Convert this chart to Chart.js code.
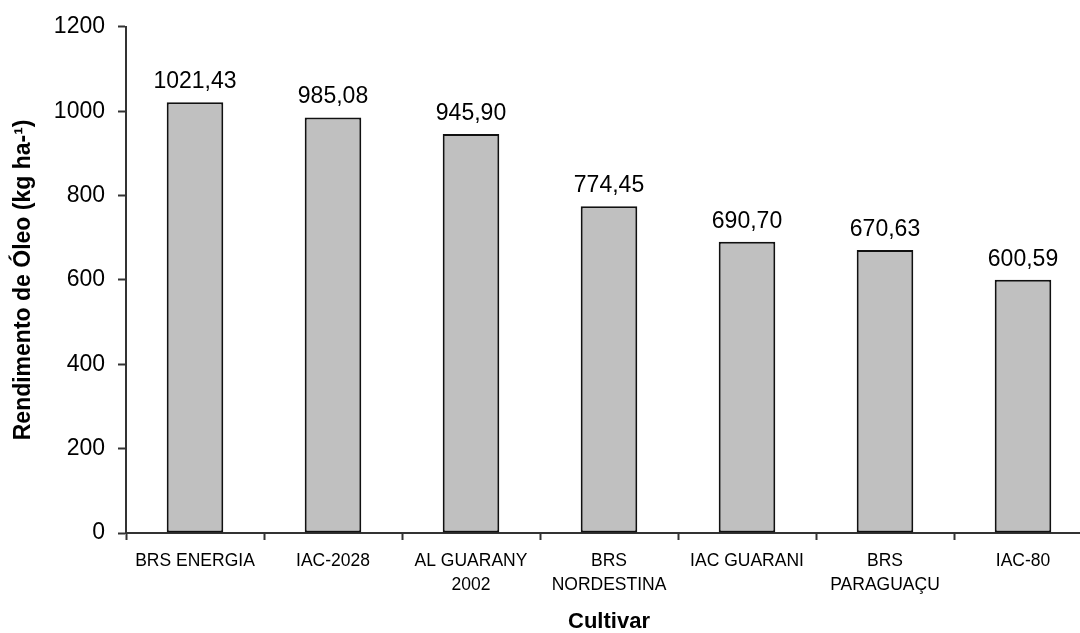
<!DOCTYPE html>
<html>
<head>
<meta charset="utf-8">
<script src="https://cdn.jsdelivr.net/npm/chart.js@4.4.0/dist/chart.umd.min.js"></script>
<style>
  html, body { margin: 0; padding: 0; background: #fff; overflow: hidden; }
  #wrap { width: 1100px; height: 633px; }
</style>
</head>
<body>
<div id="wrap"><canvas id="oleo" width="1100" height="633"></canvas></div>
<script>
// cultivares (eixo x)
var cultivares = [
	'BRS ENERGIA',
	'IAC-2028',
	['AL GUARANY', '2002'],
	['BRS', 'NORDESTINA'],
	'IAC GUARANI',
	['BRS', 'PARAGUAÇU'],
	'IAC-80'
];
// rendimento de oleo (kg/ha)
var rendimento = [1021.43, 985.08, 945.90, 774.45, 690.70, 670.63, 600.59];
var yTicks = [0, 200, 400, 600, 800, 1000, 1200];

var fonte = "'Liberation Sans', Arial, sans-serif";

// escreve o valor em cima de cada barra
var rotulos = {
	id: 'rotulos',
	afterDatasetsDraw: function(chart) {
		var ctx = chart.ctx;
		var meta = chart.getDatasetMeta(0);
		ctx.save();
		ctx.font = '23px ' + fonte;
		ctx.fillStyle = '#000';
		ctx.textAlign = 'center';
		ctx.textBaseline = 'alphabetic';
		meta.data.forEach(function(bar, i) {
			var txt = rendimento[i].toFixed(2).replace('.', ',');
			ctx.fillText(txt, bar.x, bar.y - 14);
		});
		ctx.restore();
	}
};

var ctx = document.getElementById('oleo');

var grafico = new Chart(ctx, {
	type: 'bar',
	data: {
		labels: cultivares,
		datasets: [{
			data: rendimento,
			backgroundColor: '#c0c0c0',
			borderColor: '#111',
			borderWidth: 2,
			borderSkipped: false,
			categoryPercentage: 1,
			barPercentage: 0.41
		}]
	},
	options: {
		responsive: false,
		animation: false,
		layout: { padding: { top: 24, right: 8, bottom: 0, left: 0 } },
		plugins: {
			legend: { display: false },
			tooltip: { enabled: false }
		},
		scales: {
			x: {
				grid: {
					offset: true,
					drawOnChartArea: false,
					drawTicks: true,
					tickLength: 7,
					tickWidth: 2,
					tickColor: '#333'
				},
				border: { color: '#333', width: 2 },
				ticks: {
					color: '#000',
					padding: 9,
					maxRotation: 0,
					autoSkip: false,
					font: { family: fonte, size: 17.5, lineHeight: 1.37 }
				},
				title: {
					display: true,
					text: 'Cultivar',
					color: '#000',
					padding: { top: 0, bottom: 0 },
					font: { family: fonte, size: 22, weight: 'bold', lineHeight: 1 }
				},
				afterFit: function(scale) { scale.height = 100; }
			},
			y: {
				min: 0,
				max: 1200,
				afterBuildTicks: function(scale) {
					scale.ticks = yTicks.map(function(v) { return { value: v }; });
				},
				grid: {
					drawOnChartArea: false,
					drawTicks: true,
					tickLength: 8,
					tickWidth: 2,
					tickColor: '#333'
				},
				border: { color: '#333', width: 2 },
				ticks: {
					color: '#000',
					padding: 13,
					font: { family: fonte, size: 23 },
					callback: function(v) { return String(v); }
				},
				title: {
					display: true,
					text: 'Rendimento de Óleo (kg ha-¹)',
					color: '#000',
					padding: { top: 10, bottom: 0 },
					font: { family: fonte, size: 23, weight: 'bold', lineHeight: 1.2 }
				},
				afterFit: function(scale) { scale.width = 126; }
			}
		}
	},
	plugins: [rotulos]
});
</script>
</body>
</html>
